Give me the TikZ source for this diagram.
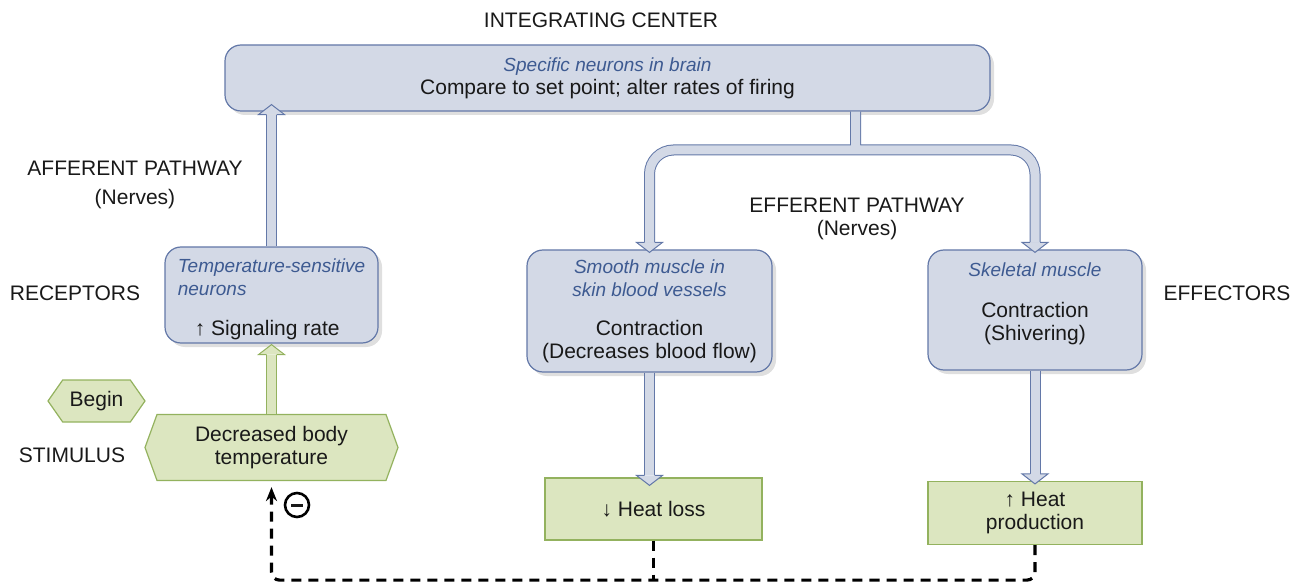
\documentclass[tikz,border=0pt]{standalone}
\usepackage{fontspec}
\setmainfont{Liberation Sans}
\usetikzlibrary{shapes.symbols, arrows.meta, positioning, calc, shadows}
\definecolor{boxblue}{HTML}{D3D9E6}
\definecolor{lineblue}{HTML}{6378A8}
\definecolor{textblue}{HTML}{3D5A91}
\definecolor{boxgreen}{HTML}{DCE6C0}
\definecolor{linegreen}{HTML}{93B25E}
\newcommand{\organtext}[1]{{\color{textblue}\itshape\fontsize{9.5}{11.5}\selectfont #1}}

\begin{document}
\begin{tikzpicture}[
  x=0.5pt, y=-0.5pt,
  every node/.style={font=\fontsize{10.5}{11.5}\selectfont, text=black!90},
  bluebox/.style={rectangle, rounded corners=8pt, draw=lineblue, fill=boxblue, line width=0.6pt, align=center, inner sep=0pt,
    drop shadow={shadow xshift=2pt, shadow yshift=-2pt, opacity=0.25}},
  greenbox/.style={rectangle, draw=linegreen, fill=boxgreen, line width=0.6pt, align=center, inner sep=0pt},
  hexbox/.style={signal, signal to=west and east, draw=linegreen, fill=boxgreen, line width=0.6pt, align=center, inner sep=0pt},
  tag/.style={align=center},
  bluepipe/.style={draw=lineblue, line width=0.5pt, double=boxblue, double distance=4.5pt},
  greenpipe/.style={draw=linegreen, line width=0.5pt, double=boxgreen, double distance=4.5pt},
  bluehead/.style={draw=lineblue, fill=boxblue, line width=0.5pt},
  greenhead/.style={draw=linegreen, fill=boxgreen, line width=0.5pt},
  feedback/.style={line width=1.6pt, dash pattern=on 5pt off 3.5pt, rounded corners=4pt},
]
  \useasboundingbox (0,0) rectangle (1295,588);

  % boxes
  \node[bluebox, minimum width=382.5pt, minimum height=33pt] (int) at (607.5,78)
    {\organtext{Specific neurons in brain}\\ Compare to set point; alter rates of firing};
  \node[bluebox, align=left, minimum width=106.5pt, minimum height=48pt] (rec) at (271.5,295)
    {\rule{0pt}{11pt}\organtext{Temperature-sensitive}\\\organtext{neurons}\\[8.5pt]\hspace*{8.5pt}↑ Signaling rate};
  \node[bluebox, minimum width=122.5pt, minimum height=61pt] (smooth) at (649.5,311)
    {\organtext{Smooth muscle in}\\\organtext{skin blood vessels}\\[8pt]Contraction\\(Decreases blood flow)};
  \node[bluebox, minimum width=107pt, minimum height=60pt] (skel) at (1035,310)
    {\organtext{Skeletal muscle}\\[9pt]Contraction\\(Shivering)\\[-3pt]\mbox{}};
  \node[hexbox, minimum width=48.5pt, minimum height=21pt, signal pointer angle=110] (begin) at (96.5,401) {Begin};
  \node[hexbox, minimum width=126.5pt, minimum height=33pt, signal pointer angle=140] (stim) at (271.5,447.5)
    {Decreased body\\temperature};
  \node[greenbox, minimum width=108.5pt, minimum height=31pt] (hl) at (653.5,509) {↓ Heat loss};
  \node[greenbox, minimum width=107pt, minimum height=31.5pt] (hp) at (1035,513) {↑ Heat\\production};

  % labels
  \node (intlabel) at (601,20) {INTEGRATING CENTER};
  \node[tag] (afflabel) at (135,185) {AFFERENT PATHWAY\\[3pt](Nerves)};
  \node[tag] (efflabel) at (857,219) {EFFERENT PATHWAY\\(Nerves)};
  \node (reclabel) at (75,293) {RECEPTORS};
  \node (effectlabel) at (1227,293) {EFFECTORS};
  \node (stimlabel) at (72,455) {STIMULUS};

  % afferent pathway
  \draw[bluepipe] (rec.north) -- ($(rec.north |- int.south)+(0,3)$);
  \filldraw[bluehead] ($(rec.north |- int.south)+(-5,3)$) -- ++(-8,0) -- ++(13,-10) -- ++(13,10) -- ++(-8,0);

  % efferent pathway
  \coordinate (split) at (855.5,150);
  \draw[bluepipe, rounded corners=12pt] (int.south -| split) -- (split)
    ($(smooth.north)+(0,-7)$) |- (split) -| ($(skel.north)+(0,-7)$);
  \filldraw[bluehead] ($(smooth.north)+(-5,-7)$) -- ++(-8,0) -- ++(13,10) -- ++(13,-10) -- ++(-8,0);
  \filldraw[bluehead] ($(skel.north)+(-5,-7)$) -- ++(-8,0) -- ++(13,10) -- ++(13,-10) -- ++(-8,0);

  % effectors to responses
  \draw[bluepipe] (smooth.south) -- ($(smooth.south |- hl.north)+(0,-2)$);
  \filldraw[bluehead] ($(smooth.south |- hl.north)+(-5,-2)$) -- ++(-8,0) -- ++(13,10) -- ++(13,-10) -- ++(-8,0);
  \draw[bluepipe] (skel.south) -- ($(hp.north)+(0,-7)$);
  \filldraw[bluehead] ($(hp.north)+(-5,-7)$) -- ++(-8,0) -- ++(13,10) -- ++(13,-10) -- ++(-8,0);

  % stimulus to receptors
  \draw[greenpipe] (stim.north) -- ($(stim.north |- rec.south)+(0,11)$);
  \filldraw[greenhead] ($(stim.north |- rec.south)+(-5,11)$) -- ++(-8,0) -- ++(13,-10) -- ++(13,10) -- ++(-8,0);

  % negative feedback
  \coordinate (loop) at ($(hp.south)+(0,35)$);
  \draw[feedback] (hl.south) -- (hl.south |- loop);
  \draw[feedback, -{Stealth[length=7pt, width=5.5pt]}] (hp.south) -- (loop) -| ($(stim.south)+(0,6)$);
  \node[circle, draw, line width=1.3pt, minimum size=12pt, inner sep=0pt] (minus) at (297,505) {\rule{6pt}{1.5pt}};
\end{tikzpicture}
\end{document}
